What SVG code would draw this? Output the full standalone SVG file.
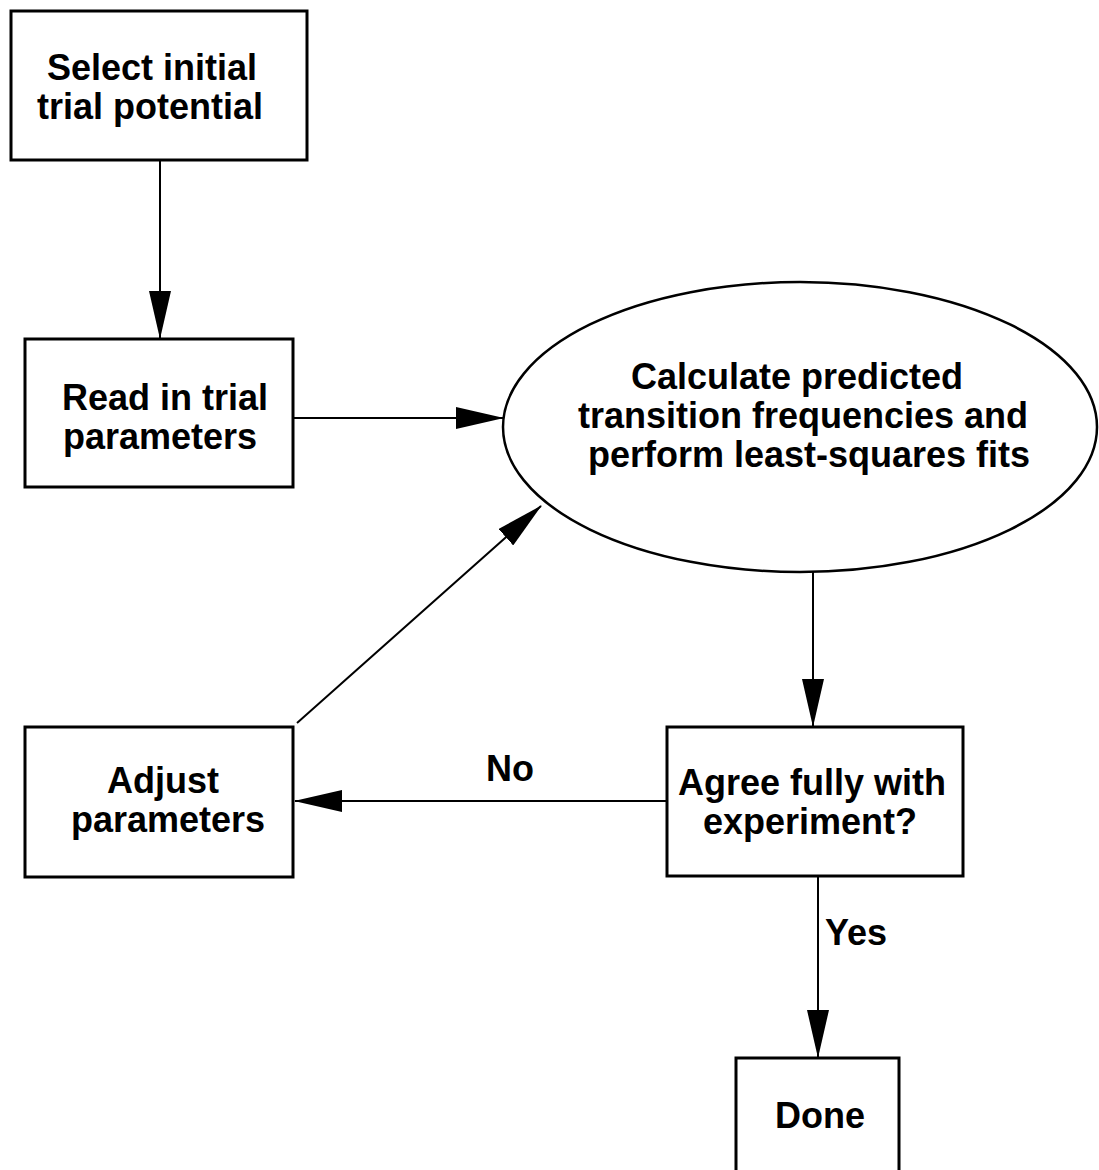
<svg xmlns="http://www.w3.org/2000/svg" width="1099" height="1170" viewBox="0 0 1099 1170">
<defs>
<style>
.box{fill:#fff;stroke:#000;stroke-width:3}
.ell{fill:#fff;stroke:#000;stroke-width:2.5}
.lbl{font-family:"Liberation Sans",Arial,sans-serif;font-weight:bold;font-size:36px;fill:#000;text-anchor:middle}
.con{stroke:#000;stroke-width:2;fill:none;marker-end:url(#ah)}
</style>
<marker id="ah" markerUnits="userSpaceOnUse" markerWidth="48" markerHeight="22" refX="47" refY="11" orient="auto">
<path d="M0,0 L48,11 L0,22 Z" fill="#000"/>
</marker>
</defs>
<rect width="1099" height="1170" fill="#fff"/>
<g id="connectors">
<line class="con" x1="160" y1="160" x2="160" y2="338"/>
<line class="con" x1="293" y1="418" x2="503" y2="418"/>
<line class="con" x1="813" y1="572" x2="813" y2="726"/>
<line class="con" x1="667" y1="801" x2="295" y2="801"/>
<line class="con" x1="297" y1="723" x2="541" y2="506"/>
<line class="con" x1="818" y1="876" x2="818" y2="1057"/>
<text class="lbl" x="510" y="781">No</text>
<text class="lbl" x="856" y="945">Yes</text>
</g>
<g id="select">
<rect class="box" x="11" y="11" width="296" height="149"/>
<text class="lbl" x="152" y="80">Select initial</text>
<text class="lbl" x="150" y="119">trial potential</text>
</g>
<g id="read">
<rect class="box" x="25" y="339" width="268" height="148"/>
<text class="lbl" x="165" y="410">Read in trial</text>
<text class="lbl" x="160" y="449">parameters</text>
</g>
<g id="calculate">
<ellipse class="ell" cx="800" cy="427" rx="297" ry="145"/>
<text class="lbl" x="797" y="389">Calculate predicted</text>
<text class="lbl" x="803" y="428">transition frequencies and</text>
<text class="lbl" x="809" y="467">perform least-squares fits</text>
</g>
<g id="agree">
<rect class="box" x="667" y="727" width="296" height="149"/>
<text class="lbl" x="812" y="795">Agree fully with</text>
<text class="lbl" x="810" y="834">experiment?</text>
</g>
<g id="adjust">
<rect class="box" x="25" y="727" width="268" height="150"/>
<text class="lbl" x="163" y="793">Adjust</text>
<text class="lbl" x="168" y="832">parameters</text>
</g>
<g id="done">
<rect class="box" x="736" y="1058" width="163" height="130"/>
<text class="lbl" x="820" y="1128">Done</text>
</g>
</svg>
